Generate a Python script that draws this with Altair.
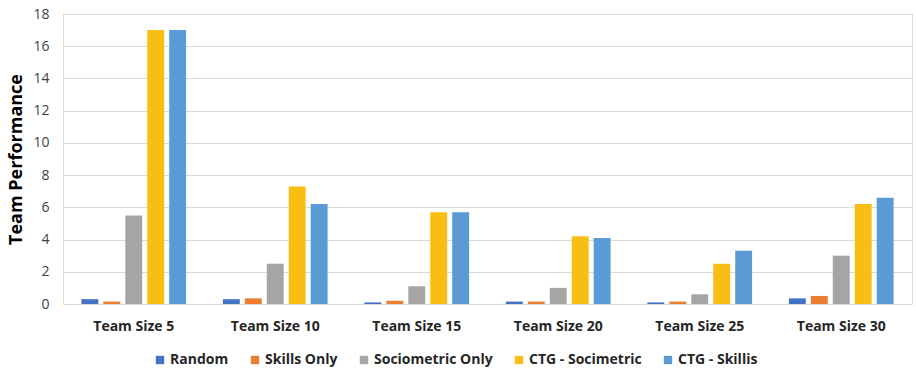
import altair as alt
import pandas as pd

groups = ["Team Size 5", "Team Size 10", "Team Size 15", "Team Size 20", "Team Size 25", "Team Size 30"]
series = ["Random", "Skills Only", "Sociometric Only", "CTG - Socimetric", "CTG - Skillis"]
colors = ["#4472C4", "#ED7D31", "#A5A5A5", "#F9BE14", "#5B9BD5"]

random_v = [0.3, 0.3, 0.1, 0.15, 0.1, 0.35]
skills_v = [0.15, 0.35, 0.2, 0.15, 0.15, 0.5]
socio_v = [5.5, 2.5, 1.1, 1.0, 0.6, 3.0]
ctg_socio_v = [17.0, 7.3, 5.7, 4.2, 2.5, 6.2]
ctg_skill_v = [17.0, 6.2, 5.7, 4.1, 3.3, 6.6]

vals = [random_v, skills_v, socio_v, ctg_socio_v, ctg_skill_v]
rows = []
for s, v in zip(series, vals):
    for g, x in zip(groups, v):
        rows.append({"group": g, "series": s, "value": x})
df = pd.DataFrame(rows)

font = "Open Sans"

chart = alt.Chart(df).mark_bar().encode(
    x=alt.X("group:N", sort=groups, title=None,
            scale=alt.Scale(paddingInner=0.26, paddingOuter=0.13),
            axis=alt.Axis(labelAngle=0, labelFont=font, labelFontWeight="bold",
                          labelFontSize=14, labelColor="#262626", labelPadding=15,
                          ticks=False, domainColor="#D9D9D9", domainWidth=1)),
    xOffset=alt.XOffset("series:N", sort=series, scale=alt.Scale(paddingInner=0.23)),
    y=alt.Y("value:Q", title="Team Performance",
            scale=alt.Scale(domain=[0, 18], nice=False),
            axis=alt.Axis(values=list(range(0, 19, 2)), labelFont=font, labelFontSize=14,
                          labelColor="#404040", ticks=False, domain=False, labelPadding=14,
                          gridColor="#D9D9D9", titleFont=font, titleFontSize=18,
                          titleFontWeight="bold", titleColor="#000000", titlePadding=7)),
    color=alt.Color("series:N", sort=series,
                    scale=alt.Scale(domain=series, range=colors),
                    legend=alt.Legend(title=None, orient="none", direction="horizontal",
                                      legendX=90, legendY=339, symbolType="square",
                                      symbolSize=70, symbolStrokeWidth=0,
                                      labelFont=font, labelFontSize=14,
                                      labelFontWeight="bold", labelColor="#262626",
                                      columnPadding=19, labelOffset=3)),
).properties(
    width=849, height=290,
    autosize=alt.AutoSizeParams(type="none"),
    padding={"left": 63, "top": 14, "right": 4, "bottom": 65},
).configure_view(stroke=None).configure(background="white")

chart.save("out.html", embed_options={"renderer": "svg", "actions": False})
